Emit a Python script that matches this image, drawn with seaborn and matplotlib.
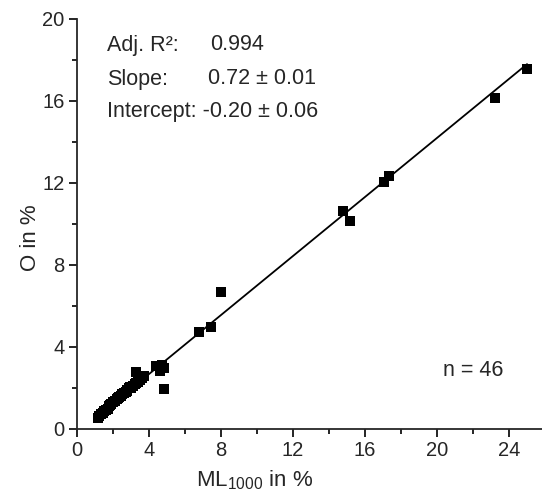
import matplotlib
matplotlib.use("Agg")
import matplotlib.pyplot as plt
import seaborn as sns
import pandas as pd
from matplotlib.ticker import MultipleLocator

# values
ml_1000 = [1.15, 1.2, 1.35, 1.45, 1.5, 1.6, 1.7, 1.75, 1.85, 1.9,
           2.0, 2.1, 2.2, 2.25, 2.35, 2.45, 2.5, 2.6, 2.7, 2.75,
           2.8, 2.9, 2.95, 3.0, 3.1, 3.2, 3.3, 3.4, 3.5, 3.6,
           3.7, 3.3, 4.4, 4.6, 4.7, 4.85, 4.83, 6.78, 7.44, 8.0,
           14.78, 15.17, 17.06, 17.33, 23.2, 25.0]
o_pct = [0.55, 0.62, 0.75, 0.8, 0.9, 0.95, 1.0, 1.1, 1.15, 1.2,
         1.3, 1.35, 1.45, 1.5, 1.55, 1.6, 1.7, 1.75, 1.8, 1.9,
         1.85, 2.0, 2.05, 2.0, 2.1, 2.2, 2.25, 2.3, 2.4, 2.5,
         2.6, 2.78, 3.05, 2.85, 3.1, 3.0, 1.95, 4.73, 4.98, 6.68,
         10.63, 10.15, 12.05, 12.34, 16.15, 17.56]

slope = 0.72
intercept = -0.20
stats_labels = ["Adj. R²:", "Slope:", "Intercept: -0.20 ± 0.06"]
stats_values = ["0.994", "0.72 ± 0.01"]
n_label = "n = 46"

df = pd.DataFrame({"ML": ml_1000, "O": o_pct})

sns.set_style("ticks")
plt.rcParams['font.family'] = ['Liberation Sans', 'DejaVu Sans']
plt.rcParams['mathtext.fontset'] = 'custom'
plt.rcParams['mathtext.rm'] = 'Liberation Sans'
plt.rcParams['mathtext.it'] = 'Liberation Sans'

fig = plt.figure(figsize=(5.42, 4.93), dpi=100)
ax = fig.add_axes([77 / 542, 1 - 429 / 493, 465 / 542, 410 / 493])

# fitted line
x_line = [min(ml_1000), max(ml_1000)]
y_line = [slope * x + intercept for x in x_line]
ax.plot(x_line, y_line, color="black", lw=1.3, zorder=1)

sns.scatterplot(data=df, x="ML", y="O", marker="s", s=55, color="black",
                linewidth=0, ax=ax, zorder=2)

ax.set_xlim(0, 25.83)
ax.set_ylim(0, 20)
ax.xaxis.set_major_locator(MultipleLocator(4))
ax.xaxis.set_minor_locator(MultipleLocator(2))
ax.yaxis.set_major_locator(MultipleLocator(4))
ax.yaxis.set_minor_locator(MultipleLocator(2))
ax.tick_params(which="major", direction="out", length=6, width=1.2, labelsize=14.5, color="black", pad=3)
ax.tick_params(which="minor", direction="out", length=3.5, width=1.2, color="black")
for s in ["top", "right"]:
    ax.spines[s].set_visible(False)
for s in ["left", "bottom"]:
    ax.spines[s].set_linewidth(1.3)

ax.set_xlabel(r"ML$_{\mathrm{1000}}$ in %", fontsize=16)
ax.set_ylabel("O in %", fontsize=16)
ax.xaxis.set_label_coords((255 - 77) / 465, -(480 - 429) / 410)
ax.yaxis.set_label_coords(-(77 - 30) / 465, (429 - 238) / 410)
ax.xaxis.label.set_va("center")
ax.yaxis.label.set_va("center")

fs = 15.5
ys = [45, 79, 112]
for lab, y in zip(stats_labels, ys):
    ax.annotate(lab, xy=(107 / 542, 1 - y / 493), xycoords="figure fraction",
                fontsize=fs, va="center", ha="left")
ax.annotate(stats_values[0], xy=(210 / 542, 1 - ys[0] / 493), xycoords="figure fraction",
            fontsize=fs, va="center", ha="left")
ax.annotate(stats_values[1], xy=(208 / 542, 1 - ys[1] / 493), xycoords="figure fraction",
            fontsize=fs, va="center", ha="left")
ax.annotate(n_label, xy=(443 / 542, 1 - 370 / 493), xycoords="figure fraction",
            fontsize=fs, va="center", ha="left")

fig.savefig("out.png", dpi=100)
